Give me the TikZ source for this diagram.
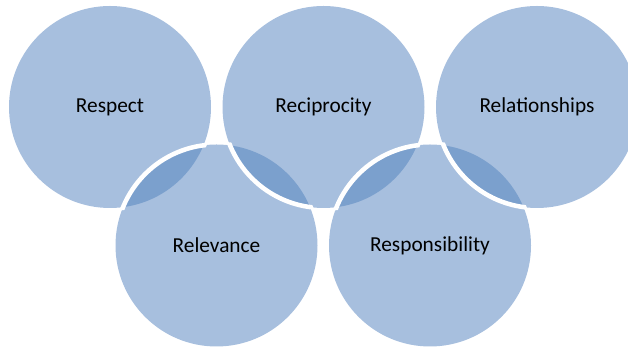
\documentclass[tikz,border=0pt]{standalone}
\usepackage{fontspec}
\setmainfont{Carlito}
\definecolor{ringfill}{HTML}{A7BFDE}
\definecolor{lensfill}{HTML}{7BA0CD}

\begin{document}
\begin{tikzpicture}[x=0.75pt, y=0.75pt,
	ring/.style={circle, fill=ringfill, minimum size=151.5pt, inner sep=0pt},
	word/.style={font=\fontsize{16}{19}\selectfont},
	rim/.style={white, line width=3.4pt}]
	\useasboundingbox (0,0) rectangle (628,348);
	\node[ring] (respect) at (110,241) {};
	\node[ring] (reciprocity) at (323.5,241) {};
	\node[ring] (relationships) at (537,241) {};
	\node[ring] (relevance) at (216.5,102.5) {};
	\node[ring] (responsibility) at (430,102.5) {};
	%% darker lens where two rings meet
	\begin{scope}
		\clip (respect.center) circle[radius=101];
		\fill[lensfill] (relevance.center) circle[radius=101];
	\end{scope}
	\begin{scope}
		\clip (reciprocity.center) circle[radius=101];
		\fill[lensfill] (relevance.center) circle[radius=101];
	\end{scope}
	\begin{scope}
		\clip (reciprocity.center) circle[radius=101];
		\fill[lensfill] (responsibility.center) circle[radius=101];
	\end{scope}
	\begin{scope}
		\clip (relationships.center) circle[radius=101];
		\fill[lensfill] (responsibility.center) circle[radius=101];
	\end{scope}
	%% white rim of the ring that lies on top
	\begin{scope}
		\clip (respect.center) circle[radius=104];
		\draw[rim] (relevance.center) circle[radius=101];
	\end{scope}
	\begin{scope}
		\clip (relevance.center) circle[radius=104];
		\draw[rim] (reciprocity.center) circle[radius=101];
	\end{scope}
	\begin{scope}
		\clip (reciprocity.center) circle[radius=104];
		\draw[rim] (responsibility.center) circle[radius=101];
	\end{scope}
	\begin{scope}
		\clip (responsibility.center) circle[radius=104];
		\draw[rim] (relationships.center) circle[radius=101];
	\end{scope}
	\node[word] at (respect) {Respect};
	\node[word] at (reciprocity) {Reciprocity};
	\node[word] at (relationships) {Relationships};
	\node[word] at (relevance) {Relevance};
	\node[word] at (responsibility) {Responsibility};
\end{tikzpicture}
\end{document}
